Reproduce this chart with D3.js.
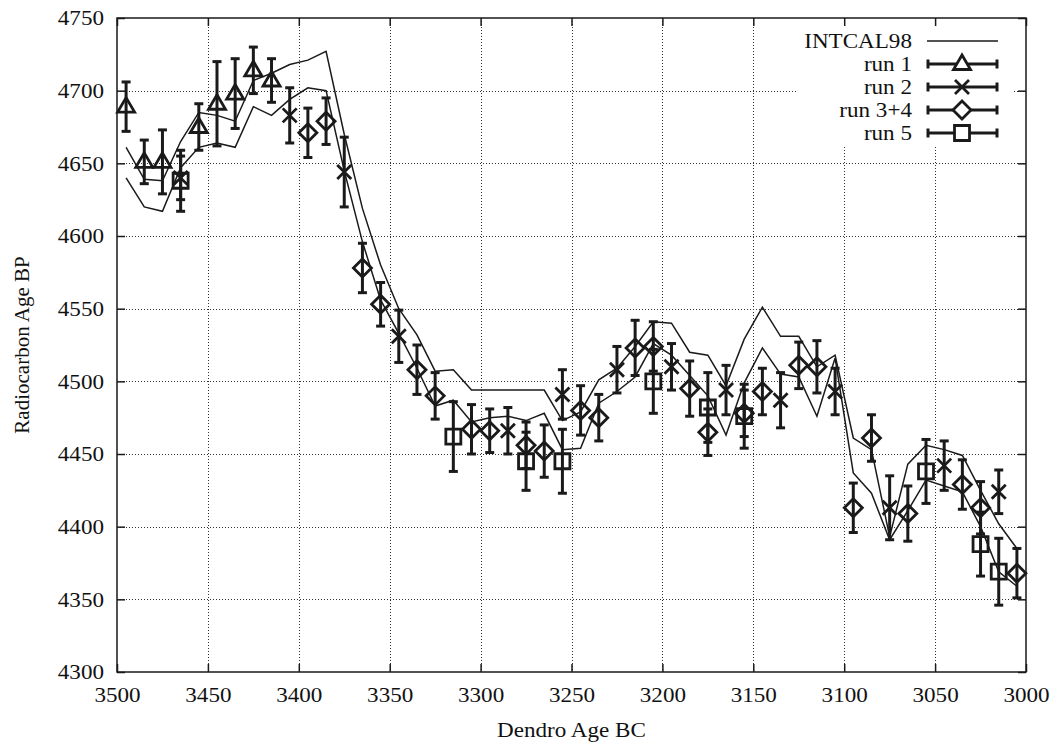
<!DOCTYPE html>
<html>
<head>
<meta charset="utf-8">
<script src="https://cdn.jsdelivr.net/npm/d3@7"></script>
<style>
    body { margin: 0; background: #fff; }
    text { font-family: "Liberation Serif", "Times New Roman", serif; font-size: 21px; fill: #111; }
</style>
</head>
<body>
<div id="chart-area"></div>
<script>

// INTCAL98 band (upper / lower curve), 10 year steps
var intcalYears = [3495,3485,3475,3465,3455,3445,3435,3425,3415,3405,3395,3385,3375,3365,3355,3345,3335,3325,3315,3305,
    3295,3285,3275,3265,3255,3245,3235,3225,3215,3205,3195,3185,3175,3165,3155,3145,3135,3125,3115,3105,
    3095,3085,3075,3065,3055,3045,3035,3025,3015,3005];
var intcalUpper = [4661,4639,4638,4665,4685,4683,4679,4707,4712,4718,4721,4727,4670,4619,4580,4550,4532,4507,4508,4494,
    4494,4494,4494,4494,4473,4479,4501,4509,4524,4541,4540,4520,4518,4497,4529,4551,4531,4531,4510,4518,
    4461,4453,4393,4443,4456,4453,4449,4425,4402,4385];
var intcalLower = [4640,4620,4617,4647,4661,4664,4661,4689,4683,4694,4702,4700,4645,4596,4556,4533,4509,4483,4487,4472,
    4475,4476,4473,4478,4453,4454,4485,4493,4503,4526,4518,4504,4490,4463,4499,4523,4505,4503,4476,4516,
    4437,4423,4391,4411,4432,4428,4424,4400,4369,4359];

var run1Years = [3495,3485,3475,3455,3445,3435,3425,3415];
var run1Values = [4689,4651,4651,4675,4691,4698,4714,4707];
var run1Errors = [17,15,22,16,29,24,16,15];

var run2Years = [3465,3405,3375,3345,3285,3255,3225,3195,3165,3135,3105,3075,3045,3015];
var run2Values = [4640,4683,4644,4531,4466,4491,4508,4510,4494,4487,4493,4413,4442,4424];
var run2Errors = [15,19,24,18,16,17,16,16,17,19,16,22,17,15];

var run34Years = [3395,3385,3365,3355,3335,3325,3305,3295,3275,3265,3245,3235,3215,3205,3185,3175,3155,3145,3125,3115,
    3095,3085,3065,3035,3025,3005];
var run34Values = [4671,4679,4578,4553,4508,4490,4467,4466,4456,4452,4480,4475,4523,4524,4495,4465,4478,4493,4511,4510,
    4413,4461,4409,4429,4413,4368];
var run34Errors = [17,16,17,15,17,16,17,15,16,18,17,16,19,17,19,16,16,16,16,18,17,16,19,17,18,17];

var run5Years = [3465,3315,3275,3255,3205,3175,3155,3055,3025,3015];
var run5Values = [4638,4462,4445,4445,4500,4482,4476,4438,4388,4369];
var run5Errors = [21,24,20,22,22,24,22,22,22,23];

var xTicks = [3500,3450,3400,3350,3300,3250,3200,3150,3100,3050,3000];
var yTicks = [4300,4350,4400,4450,4500,4550,4600,4650,4700,4750];

var legendLabels = ["INTCAL98", "run 1", "run 2", "run 3+4", "run 5"];

var width = 1053, height = 743;
var plotLeft = 117, plotRight = 1026, plotTop = 18, plotBottom = 672;
var ink = "#1a1a1a";

var svg = d3.select("#chart-area")
    .append("svg")
        .attr("width", width)
        .attr("height", height);

svg.append("rect").attr("width", width).attr("height", height).attr("fill", "#fff");

var x = d3.scaleLinear().domain([3500, 3000]).range([plotLeft, plotRight]);
var y = d3.scaleLinear().domain([4300, 4750]).range([plotBottom, plotTop]);

// stretch horizontal text a bit, the original looks wide
function widen(sel) {
    sel.each(function() {
        var w = this.getComputedTextLength();
        d3.select(this).attr("textLength", w * 1.1).attr("lengthAdjust", "spacingAndGlyphs");
    });
}

// grid
var grid = svg.append("g")
    .attr("stroke", "#333")
    .attr("stroke-width", 1)
    .attr("stroke-dasharray", "1,2");

grid.selectAll(".gx")
    .data(xTicks.slice(1, -1))
    .enter()
    .append("line")
        .attr("x1", function(d) { return Math.round(x(d)) + 0.5; })
        .attr("x2", function(d) { return Math.round(x(d)) + 0.5; })
        .attr("y1", plotTop)
        .attr("y2", plotBottom);

grid.selectAll(".gy")
    .data(yTicks.slice(1, -1))
    .enter()
    .append("line")
        .attr("y1", function(d) { return Math.round(y(d)) + 0.5; })
        .attr("y2", function(d) { return Math.round(y(d)) + 0.5; })
        .attr("x1", plotLeft)
        .attr("x2", plotRight);

// key background hides the grid behind it
svg.append("rect")
    .attr("x", 797)
    .attr("y", plotTop + 1)
    .attr("width", 216)
    .attr("height", 128)
    .attr("fill", "#fff");

// axes
var xAxis = svg.append("g")
    .attr("transform", "translate(0," + plotBottom + ")")
    .call(d3.axisBottom(x).tickValues(xTicks).tickFormat(d3.format("d")).tickSizeInner(-8).tickSizeOuter(0).tickPadding(15));
var yAxis = svg.append("g")
    .attr("transform", "translate(" + plotLeft + ",0)")
    .call(d3.axisLeft(y).tickValues(yTicks).tickFormat(d3.format("d")).tickSizeInner(-8).tickSizeOuter(0).tickPadding(13));
svg.append("g")
    .attr("transform", "translate(0," + plotTop + ")")
    .call(d3.axisTop(x).tickValues(xTicks).tickFormat("").tickSizeInner(-8).tickSizeOuter(0));
svg.append("g")
    .attr("transform", "translate(" + plotRight + ",0)")
    .call(d3.axisRight(y).tickValues(yTicks).tickFormat("").tickSizeInner(-8).tickSizeOuter(0));

svg.selectAll(".domain").remove();
svg.selectAll(".tick line").attr("stroke", ink).attr("stroke-width", 1.5);
svg.selectAll(".tick text")
    .attr("fill", ink)
    .style("font-family", "'Liberation Serif', serif")
    .style("font-size", "21px");
widen(xAxis.selectAll(".tick text"));
widen(yAxis.selectAll(".tick text"));

// frame
svg.append("rect")
    .attr("x", plotLeft)
    .attr("y", plotTop)
    .attr("width", plotRight - plotLeft)
    .attr("height", plotBottom - plotTop)
    .attr("fill", "none")
    .attr("stroke", ink)
    .attr("stroke-width", 1.5);

// axis titles
svg.append("text")
    .attr("x", (plotLeft + plotRight) / 2)
    .attr("y", 737)
    .attr("text-anchor", "middle")
    .text("Dendro Age BC")
    .call(widen);

svg.append("text")
    .attr("transform", "translate(29," + ((plotTop + plotBottom) / 2) + ") rotate(-90)")
    .attr("text-anchor", "middle")
    .text("Radiocarbon Age BP");

// INTCAL98 curves
var line = d3.line()
    .x(function(d) { return x(d[0]); })
    .y(function(d) { return y(d[1]); });

[intcalUpper, intcalLower].forEach(function(vals) {
    svg.append("path")
        .datum(d3.zip(intcalYears, vals))
        .attr("d", line)
        .attr("fill", "none")
        .attr("stroke", ink)
        .attr("stroke-width", 1.5);
});

// marker shapes
var markers = {
    triangle: "M0,-9L8.5,5.5L-8.5,5.5Z",
    cross: "M-7,-7L7,7M7,-7L-7,7",
    diamond: "M0,-9L9,0L0,9L-9,0Z",
    square: "M-7.5,-7.5H7.5V7.5H-7.5Z"
};

function drawRun(years, values, errors, shape) {
    var data = years.map(function(yr, i) {
        return { year: yr, value: values[i], err: errors[i] };
    });
    var g = svg.append("g")
        .attr("stroke", ink)
        .attr("stroke-width", 3)
        .attr("fill", "none");

    var bars = g.selectAll(".bar")
        .data(data)
        .enter()
        .append("g");

    bars.append("line")
        .attr("x1", function(d) { return x(d.year); })
        .attr("x2", function(d) { return x(d.year); })
        .attr("y1", function(d) { return y(d.value - d.err); })
        .attr("y2", function(d) { return y(d.value + d.err); });
    bars.append("line")
        .attr("x1", function(d) { return x(d.year) - 4.5; })
        .attr("x2", function(d) { return x(d.year) + 4.5; })
        .attr("y1", function(d) { return y(d.value - d.err); })
        .attr("y2", function(d) { return y(d.value - d.err); });
    bars.append("line")
        .attr("x1", function(d) { return x(d.year) - 4.5; })
        .attr("x2", function(d) { return x(d.year) + 4.5; })
        .attr("y1", function(d) { return y(d.value + d.err); })
        .attr("y2", function(d) { return y(d.value + d.err); });

    bars.append("path")
        .attr("d", markers[shape])
        .attr("stroke-width", 2.8)
        .attr("transform", function(d) {
            return "translate(" + x(d.year) + "," + y(d.value) + ")";
        });
}

drawRun(run1Years, run1Values, run1Errors, "triangle");
drawRun(run2Years, run2Values, run2Errors, "cross");
drawRun(run34Years, run34Values, run34Errors, "diamond");
drawRun(run5Years, run5Values, run5Errors, "square");

// key
var keyShapes = [null, "triangle", "cross", "diamond", "square"];
var key = svg.append("g");
legendLabels.forEach(function(label, i) {
    var cy = 41 + i * 23;
    key.append("text")
        .attr("x", 912)
        .attr("y", cy)
        .attr("dy", "0.35em")
        .attr("text-anchor", "end")
        .text(label)
        .call(widen);

    if (keyShapes[i] === null) {
        key.append("line")
            .attr("x1", 927).attr("x2", 998)
            .attr("y1", cy).attr("y2", cy)
            .attr("stroke", ink)
            .attr("stroke-width", 1.5);
    } else {
        var k = key.append("g")
            .attr("stroke", ink)
            .attr("stroke-width", 3)
            .attr("fill", "none");
        k.append("line").attr("x1", 927).attr("x2", 998).attr("y1", cy).attr("y2", cy);
        k.append("line").attr("x1", 928).attr("x2", 928).attr("y1", cy - 4.5).attr("y2", cy + 4.5);
        k.append("line").attr("x1", 997).attr("x2", 997).attr("y1", cy - 4.5).attr("y2", cy + 4.5);
        k.append("path")
            .attr("d", markers[keyShapes[i]])
            .attr("fill", "#fff")
            .attr("stroke-width", 2.8)
            .attr("transform", "translate(962," + cy + ")");
    }
});

</script>
</body>
</html>
